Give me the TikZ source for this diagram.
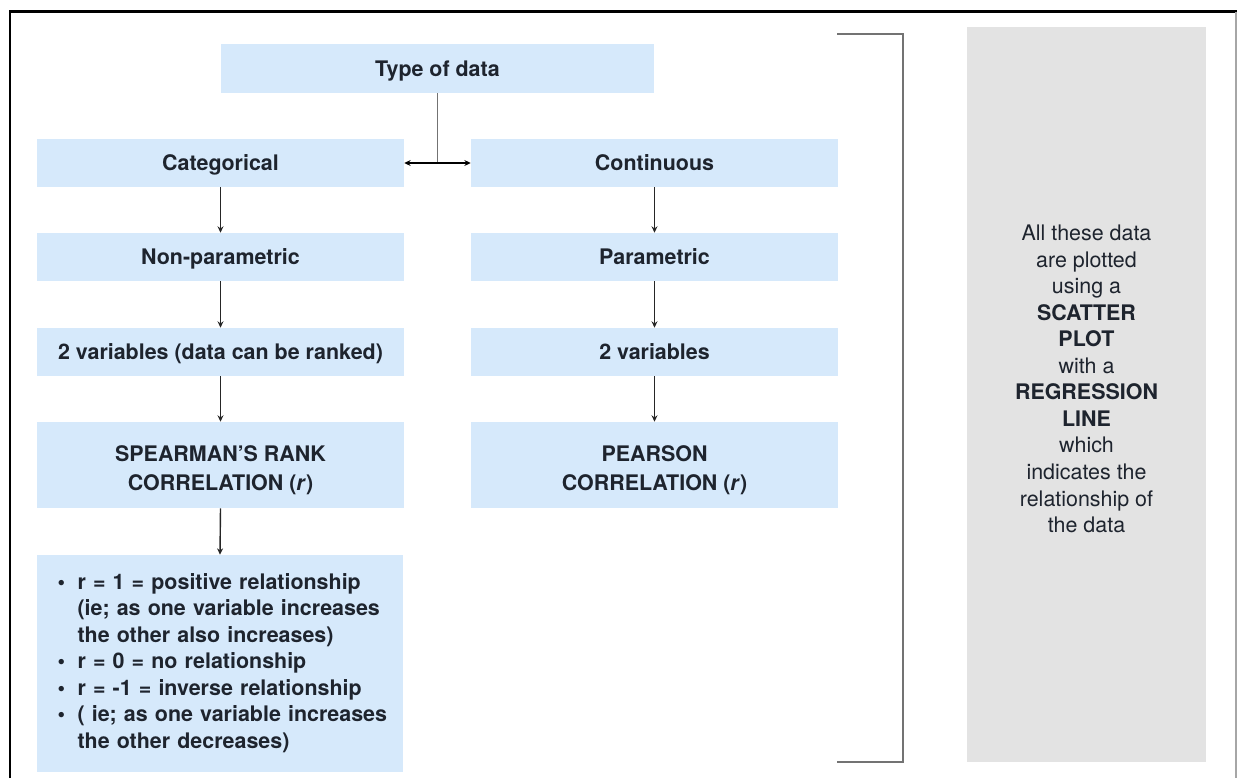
\documentclass[tikz,border=0pt]{standalone}
\usepackage{fontspec}
\setmainfont{TeX Gyre Heros}
\usepackage{xcolor}
\usetikzlibrary{%
  arrows.meta,
  positioning
}

\begin{document}
\begin{tikzpicture}[x=0.02cm,y=-0.02cm,
    >={Stealth[length=3.6pt,width=3.4pt]},
    box/.style={fill=\blu,draw=none,inner sep=0pt,align=center,text=\ink,
      minimum width=7.34cm,minimum height=0.96cm,
      text height=10pt,text depth=1pt,
      font=\fontsize{12.2}{16.4}\selectfont\bfseries},
    tallbox/.style={box,minimum height=1.72cm,text height=,text depth=},
    facts/.style={box,align=left,text width=6.5cm,inner xsep=0.42cm,
      text height=,text depth=,
      minimum height=4.34cm,font=\fontsize{12.2}{15.1}\selectfont\bfseries},
    notebox/.style={fill=\gry,draw=none,minimum width=4.78cm,minimum height=14.7cm},
    notetext/.style={align=center,text=\ink,inner sep=0pt,
      font=\fontsize{12.2}{15.1}\selectfont},
    link/.style={->,black!85,line width=0.8pt}
  ]
  \useasboundingbox (0,0) rectangle (1237,778);
  \def\blu{rgb,255:red,214;green,233;blue,251}
  \def\gry{rgb,255:red,227;green,227;blue,227}
  \def\ink{rgb,255:red,30;green,36;blue,46}
  \def\up{\rule{0pt}{14.6pt}}

  % frame
  \draw[line width=1.7pt,black] (10,778) -- (10,11.5) -- (1237,11.5);
  \draw[black!35,line width=0.6pt] (1236,12) -- (1236,778);

  % tree
  \node[box,minimum width=8.66cm,minimum height=0.98cm] (type) at (437.5,68.5) {Type of data};
  \node[box] (cat) at (220.5,163) {Categorical};
  \node[box] (cont) at (654.5,163) {Continuous};
  \node[box] (nonpar) at (220.5,257) {Non-parametric};
  \node[box] (par) at (654.5,257) {Parametric};
  \node[box] (twovar) at (220.5,352) {2 variables (data can be ranked)};
  \node[box] (twovarp) at (654.5,352) {2 variables};
  \node[tallbox] (spear) at (220.5,465) {\up SPEARMAN'S RANK\\CORRELATION (\textit{r})};
  \node[tallbox] (pear) at (654.5,465) {\up PEARSON\\CORRELATION (\textit{r})};
  \node[facts] (rules) at (220,663.5) {%
    \begin{tabular}{@{}l@{\hspace{0.25cm}}l@{}}
      \textbullet & r = 1 = positive relationship\\
                  & (ie; as one variable increases\\
                  & the other also increases)\\
      \textbullet & r = 0 = no relationship\\
      \textbullet & r = -1 = inverse relationship\\
      \textbullet & ( ie; as one variable increases\\
                  & the other decreases)
    \end{tabular}};

  \coordinate (split) at (type.south |- cat.east);
  \draw[black!55,line width=1.1pt] (type) -- (split);
  \draw[<->,black,line width=0.8pt] (cat) -- (cont);
  \foreach \a/\b in {cat/nonpar,nonpar/twovar,twovar/spear,spear/rules,
                     cont/par,par/twovarp,twovarp/pear} {
    \draw[link] (\a.south) -- (\b.north);
  }

  % bracket and note
  \coordinate (bt) at (837,34);
  \coordinate (bb) at (837,762);
  \draw[black!55,line width=1.4pt] (bt) -- ++(66,0) |- (bb);
  \node[notebox] (note) at (1086.5,394.5) {};
  \node[notetext] (notetxt) at (1086.5,379) {All these data\\are plotted\\using a\\
    \textbf{SCATTER}\\\textbf{PLOT}\\with a\\\textbf{REGRESSION}\\\textbf{LINE}\\
    which\\indicates the\\relationship of\\the data};
\end{tikzpicture}
\end{document}
